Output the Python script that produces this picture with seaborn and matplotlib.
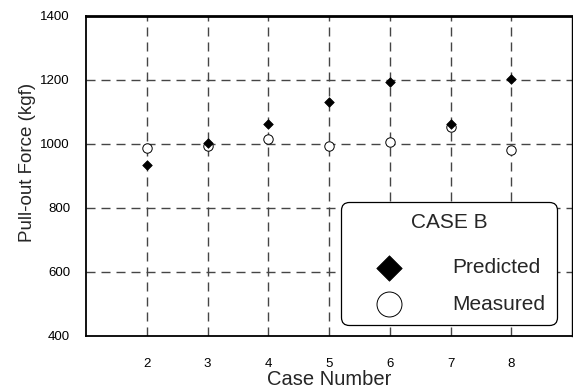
import matplotlib
matplotlib.use("Agg")
import matplotlib.pyplot as plt
import seaborn as sns
import pandas as pd

cases = [2, 3, 4, 5, 6, 7, 8]
predicted = [935, 1002, 1062, 1131, 1193, 1062, 1204]
measured = [988, 995, 1017, 994, 1005, 1053, 980]

sns.set_style("white")
plt.rcParams["font.family"] = ["Liberation Sans", "DejaVu Sans"]

df = pd.DataFrame({
    "case": cases * 2,
    "force": predicted + measured,
    "series": ["Predicted"] * len(cases) + ["Measured"] * len(cases),
})

fig = plt.figure(figsize=(5.73, 3.89), dpi=100)
ax = fig.add_axes([86 / 573, 1 - 336 / 389, 486 / 573, 320 / 389])

sns.scatterplot(data=df[df.series == "Predicted"], x="case", y="force", ax=ax,
                marker="D", s=24, color="black", edgecolor="black", linewidth=0.5,
                label="Predicted", zorder=4)
sns.scatterplot(data=df[df.series == "Measured"], x="case", y="force", ax=ax,
                marker="o", s=46, facecolor="white", edgecolor="black", linewidth=0.7,
                label="Measured", zorder=3)

ax.set_xlim(1, 9)
ax.set_ylim(400, 1400)
ax.set_xticks(range(1, 10))
ax.set_xticklabels([""] + [str(c) for c in cases] + [""])
ax.set_yticks(range(400, 1401, 200))
ax.tick_params(axis="both", direction="out", length=6, width=1.2, colors="black",
               labelsize=9.5, pad=5.5)
ax.tick_params(axis="x", pad=10)

dash = (0, (6.5, 4.3))
for x in cases:
    ax.axvline(x, color="#454545", linestyle=dash, linewidth=1.0, zorder=1)
for y in [600, 800, 1000, 1200]:
    ax.axhline(y, color="#454545", linestyle=dash, linewidth=1.0, zorder=1)

for side in ["left", "bottom"]:
    ax.spines[side].set_color("black")
    ax.spines[side].set_linewidth(1.3)
ax.spines["top"].set_color("black")
ax.spines["top"].set_linewidth(2.0)
ax.spines["right"].set_color("black")
ax.spines["right"].set_linewidth(1.0)

ax.set_xlabel("Case Number", fontsize=14.5, labelpad=-0.5)
ax.set_ylabel("Pull-out Force (kgf)", fontsize=13.5)
ax.yaxis.set_label_coords((36 - 86) / 486, (336 - 162) / 320)

leg = ax.legend(title="CASE B", loc="upper left",
                bbox_to_anchor=((341 - 86) / 486, (336 - 202) / 320),
                markerscale=2.65, fontsize=15, title_fontsize=15,
                frameon=True, fancybox=True, edgecolor="black", framealpha=1,
                handletextpad=1.32, borderpad=0.55, labelspacing=0.85,
                borderaxespad=0, handlelength=3.49)
frame = leg.get_frame()
frame.set_linewidth(0.9)
frame.set_boxstyle("round,pad=0,rounding_size=0.4")
leg._legend_box.align = "center"
leg._legend_box.sep = 18.5

fig.savefig("out.png", dpi=100)
